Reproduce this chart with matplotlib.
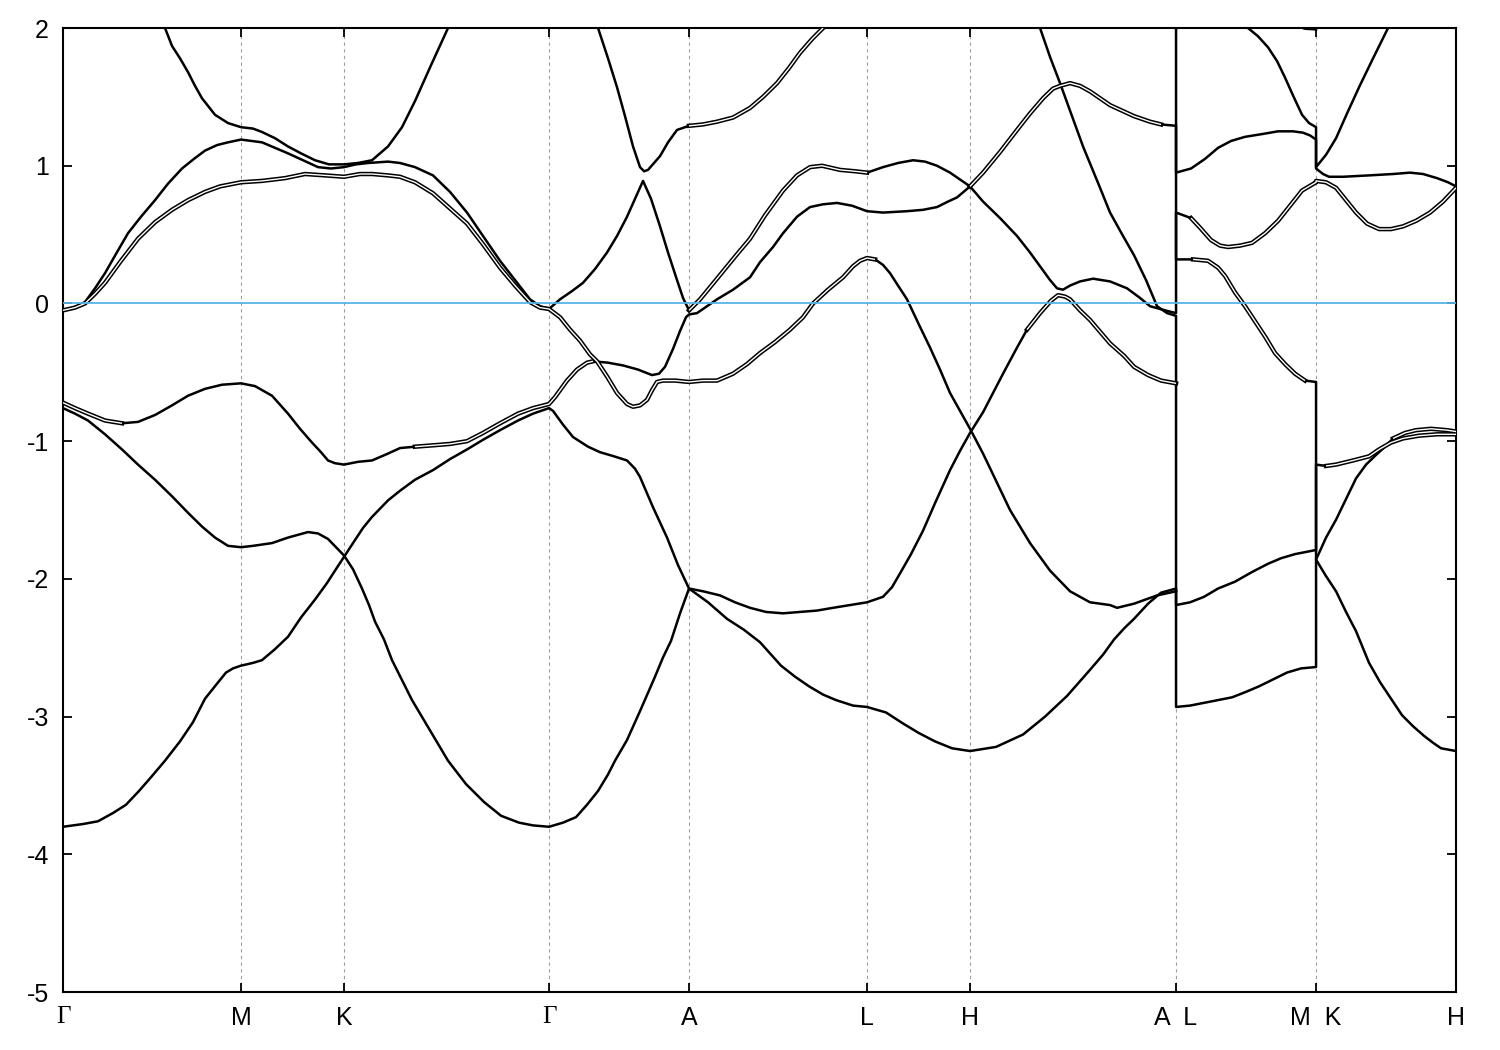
import numpy as np
import matplotlib.pyplot as plt
from matplotlib import font_manager

# ---------- k-path (arbitrary path-length units) ----------
kpts = [0, 178, 281, 486, 626, 804, 907, 1113, 1253, 1393]
klabels = ['Γ', 'M', 'K', 'Γ', 'A', 'L', 'H', 'A  L', 'M  K', 'H']
yticks = [-5, -4, -3, -2, -1, 0, 1, 2]

# ---------- bands (E - E_F in eV) ----------
t1_k = [102, 109, 117, 125, 132, 139, 152, 165, 178, 190, 199, 212, 225, 238, 252, 266, 281,
        295, 309, 325, 339, 352, 368, 385]
t1_e = [2.00, 1.87, 1.78, 1.68, 1.58, 1.49, 1.37, 1.31, 1.28, 1.27, 1.245, 1.20, 1.14, 1.09, 1.04, 1.01, 1.01,
        1.02, 1.04, 1.14, 1.28, 1.47, 1.73, 2.00]

b1_k = [0, 11, 22, 32, 42, 53, 65, 78, 92, 105, 119, 131, 142, 154, 165, 178,
        199, 212, 225, 240, 255, 268, 281,
        293, 305, 325, 337, 352, 370, 387, 404, 420, 437, 452, 467, 477, 486,
        497, 509, 520, 532, 544, 554, 564, 572, 580, 588, 597, 605, 614, 620, 626,
        637, 654, 672, 687, 702, 720, 734, 747, 759, 777, 792, 804,
        820, 835, 850, 862, 874, 887, 897, 907,
        920, 937, 954, 967, 977, 987, 994, 1000, 1007, 1017, 1030, 1047, 1064, 1077, 1087, 1102, 1113,
        1113, 1128, 1137, 1148, 1157, 1165, 1177, 1189, 1202, 1215, 1227, 1239, 1253,
        1253, 1263, 1273, 1283, 1293, 1304, 1316, 1328, 1340, 1353, 1367, 1380, 1393]
b1_e = [-0.05, -0.03, 0.01, 0.11, 0.22, 0.36, 0.51, 0.63, 0.75, 0.87, 0.98, 1.05, 1.11, 1.15, 1.17, 1.19,
        1.17, 1.13, 1.09, 1.04, 0.99, 0.98, 0.99,
        1.01, 1.02, 1.03, 1.02, 0.99, 0.93, 0.81, 0.66, 0.49, 0.31, 0.17, 0.03, -0.02, -0.04,
        0.03, 0.09, 0.15, 0.25, 0.37, 0.49, 0.63, 0.76, 0.89, 0.76, 0.56, 0.37, 0.17, 0.04, -0.05,
        0.03, 0.18, 0.34, 0.47, 0.64, 0.82, 0.93, 0.99, 1.00, 0.97, 0.96, 0.95,
        0.99, 1.02, 1.04, 1.03, 1.00, 0.95, 0.90, 0.85,
        0.74, 0.62, 0.49, 0.37, 0.27, 0.17, 0.11, 0.10, 0.13, 0.16, 0.18, 0.16, 0.11, 0.04, -0.02, -0.05, -0.07,
        0.66, 0.62, 0.55, 0.46, 0.42, 0.41, 0.42, 0.44, 0.51, 0.60, 0.71, 0.82, 0.88,
        0.89, 0.88, 0.84, 0.75, 0.66, 0.58, 0.54, 0.54, 0.56, 0.60, 0.66, 0.74, 0.84]

b2_k = [0, 12, 22, 32, 42, 57, 75, 92, 109, 125, 142, 157, 178,
        199, 222, 242, 262, 281,
        297, 309, 325, 337, 352, 370, 387, 404, 420, 437, 452, 467, 477, 486,
        497, 507, 517, 527, 534, 544, 554, 564, 570, 577, 584, 589, 594, 600, 612, 626,
        640, 654, 670, 684, 697, 712, 727, 740, 750, 765, 780, 790, 797, 804,
        812, 820, 827, 835, 844, 857, 867, 877, 887, 897, 907,
        920, 947, 967, 987, 1007, 1027, 1047, 1054, 1071, 1094, 1113]
b2_e = [-0.05, -0.03, 0.00, 0.07, 0.15, 0.30, 0.47, 0.59, 0.68, 0.75, 0.81, 0.85, 0.88,
        0.89, 0.91, 0.94, 0.93, 0.92,
        0.94, 0.94, 0.93, 0.92, 0.88, 0.80, 0.69, 0.58, 0.43, 0.26, 0.13, 0.01, -0.03, -0.04,
        -0.10, -0.19, -0.27, -0.37, -0.42, -0.53, -0.65, -0.73, -0.75, -0.74, -0.70, -0.63, -0.57, -0.56, -0.56, -0.57,
        -0.56, -0.56, -0.51, -0.44, -0.36, -0.28, -0.19, -0.10, 0.00, 0.10, 0.19, 0.27, 0.31, 0.33,
        0.32, 0.28, 0.22, 0.13, 0.03, -0.17, -0.32, -0.48, -0.65, -0.78, -0.91,
        -1.09, -1.50, -1.74, -1.94, -2.09, -2.17, -2.19, -2.21, -2.18, -2.12, -2.09]

d_k = [0, 12, 25, 42, 59, 75, 92, 109, 125, 142, 159, 178,
       192, 209, 225, 237, 249, 258, 265, 272, 281,
       295, 309, 325, 337, 352, 370, 387, 404, 420, 437, 455, 470, 486,
       492, 497, 504, 514, 524, 530, 545, 560, 575, 589, 596, 602, 610, 617, 623, 626,
       634, 654, 670, 687, 697, 710, 720, 734, 747, 760, 774, 789, 804,
       820, 844, 860, 874, 885, 894, 907,
       920, 937, 954, 967, 980, 990, 997, 1007, 1017, 1027, 1037, 1047, 1071, 1087, 1098, 1113,
       1113, 1130, 1145, 1155, 1162, 1172, 1182, 1192, 1202, 1212, 1222, 1232, 1242, 1253,
       1253, 1263, 1273, 1283, 1293, 1306, 1317, 1328, 1339, 1350, 1361, 1370, 1378, 1393]
d_e = [-0.72, -0.76, -0.80, -0.85, -0.87, -0.86, -0.81, -0.74, -0.67, -0.62, -0.59, -0.58,
       -0.60, -0.67, -0.80, -0.91, -1.01, -1.08, -1.14, -1.16, -1.17,
       -1.15, -1.14, -1.09, -1.05, -1.04, -1.03, -1.02, -1.00, -0.94, -0.87, -0.80, -0.76, -0.73,
       -0.68, -0.63, -0.56, -0.48, -0.43, -0.42, -0.43, -0.45, -0.48, -0.52, -0.51, -0.46, -0.33, -0.20, -0.10, -0.08,
       -0.07, 0.03, 0.10, 0.19, 0.30, 0.41, 0.51, 0.63, 0.70, 0.72, 0.73, 0.71, 0.67,
       0.66, 0.67, 0.68, 0.70, 0.74, 0.77, 0.85,
       0.95, 1.10, 1.26, 1.38, 1.49, 1.56, 1.58, 1.60, 1.58, 1.54, 1.49, 1.44, 1.36, 1.32, 1.30, 1.29,
       0.32, 0.32, 0.31, 0.26, 0.20, 0.08, -0.02, -0.13, -0.24, -0.36, -0.44, -0.51, -0.56, -0.57,
       -1.86, -1.98, -2.09, -2.24, -2.38, -2.61, -2.75, -2.87, -2.99, -3.07, -3.14, -3.19, -3.23, -3.25]

e_k = [0, 12, 25, 42, 59, 75, 92, 109, 125, 139, 152, 165, 178,
       190, 209, 225, 245, 255, 265, 273, 281,
       290, 299, 306, 312, 321, 329, 349, 367, 385, 403, 421, 438, 456, 470, 486,
       500, 513, 524, 535, 545, 552, 564, 577, 592, 600, 608, 617, 626,
       645, 664, 681, 697, 718, 732, 746, 760, 773, 790, 804,
       823, 840, 856, 872, 889, 907,
       933, 960, 982, 1004, 1027, 1040, 1051, 1061, 1071, 1085, 1098, 1113,
       1113, 1127, 1141, 1155, 1169, 1183, 1196, 1210, 1224, 1238, 1253,
       1253, 1263, 1273, 1283, 1293, 1303, 1313, 1322, 1330, 1342, 1353, 1368, 1384, 1393]
e_e = [-0.76, -0.80, -0.85, -0.95, -1.06, -1.17, -1.28, -1.40, -1.52, -1.62, -1.70, -1.76, -1.77,
       -1.76, -1.74, -1.70, -1.66, -1.67, -1.71, -1.77, -1.83,
       -1.93, -2.07, -2.19, -2.31, -2.44, -2.59, -2.88, -3.10, -3.32, -3.49, -3.62, -3.72, -3.77, -3.79, -3.80,
       -3.77, -3.73, -3.64, -3.54, -3.42, -3.32, -3.17, -2.96, -2.71, -2.57, -2.45, -2.25, -2.07,
       -2.17, -2.29, -2.37, -2.46, -2.63, -2.71, -2.78, -2.84, -2.88, -2.92, -2.93,
       -2.97, -3.05, -3.12, -3.18, -3.23, -3.25,
       -3.22, -3.13, -3.00, -2.85, -2.66, -2.55, -2.44, -2.36, -2.29, -2.18, -2.10, -2.07,
       -2.93, -2.92, -2.90, -2.88, -2.86, -2.82, -2.78, -2.73, -2.68, -2.65, -2.64,
       -1.86, -1.70, -1.57, -1.42, -1.27, -1.17, -1.10, -1.04, -0.98, -0.94, -0.92, -0.91, -0.92, -0.93]

f_k = [0, 20, 35, 50, 63, 76, 88, 102, 117, 130, 142, 153, 163, 170, 178,
       190, 199, 212, 225, 238, 252, 264, 272, 281,
       290, 300, 309, 325, 337, 352, 370, 387, 404, 420, 437, 455, 470, 486,
       490, 500, 510, 525, 537, 551, 564, 572, 577, 590, 604, 615, 626,
       640, 657, 672, 687, 703, 720, 737, 754, 770, 787, 804,
       812, 820, 829, 837, 848, 860, 872, 887, 897, 907,
       920, 940, 954, 964, 977, 988, 995, 1002, 1007, 1017, 1027, 1047, 1061, 1071, 1085, 1098, 1113]
f_e = [-3.80, -3.78, -3.76, -3.70, -3.64, -3.54, -3.44, -3.32, -3.18, -3.04, -2.87, -2.77, -2.68, -2.65, -2.63,
       -2.61, -2.59, -2.51, -2.42, -2.28, -2.15, -2.03, -1.94, -1.84,
       -1.74, -1.63, -1.55, -1.43, -1.36, -1.28, -1.21, -1.13, -1.06, -0.99, -0.92, -0.85, -0.80, -0.76,
       -0.78, -0.88, -0.97, -1.04, -1.08, -1.11, -1.14, -1.20, -1.26, -1.48, -1.70, -1.90, -2.07,
       -2.09, -2.12, -2.17, -2.21, -2.24, -2.25, -2.24, -2.23, -2.21, -2.19, -2.17,
       -2.15, -2.13, -2.06, -1.96, -1.82, -1.65, -1.45, -1.21, -1.07, -0.94,
       -0.79, -0.51, -0.32, -0.19, -0.07, 0.02, 0.06, 0.05, 0.03, -0.05, -0.12, -0.29, -0.38, -0.46, -0.52, -0.56, -0.58]

c3_k = [977, 987, 997, 1007, 1020, 1037, 1047, 1060, 1071, 1083, 1094, 1104, 1113,
        1113, 1127, 1141, 1155, 1172, 1189, 1205, 1218, 1232, 1253,
        1253, 1263, 1273, 1290, 1306, 1316, 1328, 1340, 1356, 1374, 1393]
c3_e = [2.00, 1.79, 1.60, 1.40, 1.14, 0.84, 0.66, 0.49, 0.35, 0.17, -0.02, -0.07, -0.09,
        -2.19, -2.17, -2.13, -2.07, -2.02, -1.95, -1.89, -1.85, -1.82, -1.79,
        -1.17, -1.18, -1.17, -1.14, -1.11, -1.06, -1.01, -0.98, -0.96, -0.95, -0.95]

eps_k = [535, 545, 554, 562, 570, 577, 581, 585, 591, 597, 605, 614, 626, 640, 654, 670, 687, 700, 714,
         726, 737, 749, 760]
eps_e = [2.00, 1.78, 1.57, 1.36, 1.14, 0.99, 0.96, 0.97, 1.02, 1.07, 1.17, 1.26, 1.29, 1.30, 1.32, 1.35, 1.42,
         1.50, 1.60, 1.71, 1.82, 1.92, 2.00]

c0_k = [1113, 1113, 1128, 1142, 1155, 1168, 1182, 1199, 1215, 1230, 1240, 1247, 1253,
        1253, 1260, 1266, 1280, 1306, 1330, 1347, 1360, 1374, 1385, 1393]
c0_e = [2.30, 0.95, 0.98, 1.05, 1.13, 1.18, 1.21, 1.23, 1.25, 1.25, 1.24, 1.22, 1.19,
        0.98, 0.94, 0.92, 0.92, 0.93, 0.94, 0.95, 0.94, 0.91, 0.88, 0.85]

c7_k = [1178, 1185, 1195, 1205, 1214, 1222, 1230, 1239, 1246, 1253,
        1253, 1263, 1273, 1284, 1296, 1310, 1325]
c7_e = [2.01, 2.00, 1.94, 1.86, 1.76, 1.64, 1.51, 1.37, 1.31, 1.28,
        0.99, 1.08, 1.20, 1.38, 1.57, 1.78, 2.00]

topm_k = [1232, 1242, 1253]
topm_e = [2.02, 1.995, 1.99]

# k-ranges where a band is a resolved (spin-split) pair
bands = [
    (t1_k, t1_e, []),
    (b1_k, b1_e, [(626, 804), (1114, 1393)]),
    (b2_k, b2_e, [(0, 812)]),
    (d_k, d_e, [(0, 59), (352, 530), (907, 1112), (1114, 1252)]),
    (e_k, e_e, [(1330, 1393)]),
    (f_k, f_e, [(964, 1113)]),
    (c3_k, c3_e, [(1254, 1393)]),
    (eps_k, eps_e, [(626, 760)]),
    (c0_k, c0_e, []),
    (c7_k, c7_e, []),
    (topm_k, topm_e, []),
]

# ---------- style ----------
names = {f.name for f in font_manager.fontManager.ttflist}
sans = 'Liberation Sans Narrow' if 'Liberation Sans Narrow' in names else 'Liberation Sans'
plt.rcParams['font.family'] = sans
plt.rcParams['axes.unicode_minus'] = False

fig = plt.figure(figsize=(15, 10.5), dpi=100)
ax = fig.add_axes([0.042, 0.0552, 0.9287, 0.9181])

for x in kpts[1:-1]:
    ax.axvline(x, color='#a0a0a0', lw=0.8, ls=(0, (3, 3)), zorder=1)

for k, e, dbl in bands:
    k = np.array(k, dtype=float)
    e = np.array(e, dtype=float)
    ax.plot(k, e, color='black', lw=1.8, zorder=2, solid_joinstyle='round')
    for a, b in dbl:
        m = (k >= a) & (k <= b)
        ax.plot(k[m], e[m], color='black', lw=3.2, zorder=2, solid_joinstyle='round')
        ax.plot(k[m], e[m], color='white', lw=1.0, zorder=3, solid_joinstyle='round',
                solid_capstyle='butt')

ax.axhline(0, color='#56b4e9', lw=1.3, zorder=5)

ax.set_xlim(kpts[0], kpts[-1])
ax.set_ylim(-5, 2)
ax.set_xticks(kpts)
ax.set_xticklabels(klabels)
ax.set_yticks(yticks)
ax.set_yticklabels([str(v) for v in yticks])
ax.tick_params(axis='both', direction='in', length=6.5, width=1.3, top=True, right=True,
               labelsize=18)
ax.tick_params(axis='x', pad=10)
ax.tick_params(axis='y', pad=10)
for lab in ax.get_xticklabels():
    if lab.get_text() == 'Γ':
        lab.set_fontfamily('Liberation Serif')
for sp in ax.spines.values():
    sp.set_linewidth(1.5)

fig.savefig('out.png', dpi=100)
